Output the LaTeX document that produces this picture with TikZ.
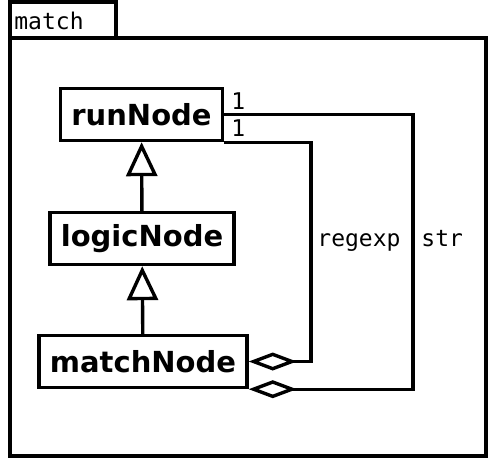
\documentclass[tikz,border=0pt]{standalone}
\usepackage{fontspec}
\setsansfont{DejaVu Sans}
\setmonofont{DejaVu Sans Mono}
\usepackage{tikz}
\usetikzlibrary{positioning, arrows.meta}
\tikzstyle{classNode}=[draw,line width=1.7pt,rectangle,inner xsep=5.5pt,minimum height=26pt,font=\sffamily\bfseries\fontsize{14.5}{17}\selectfont]
\tikzstyle{textLabel}=[inner sep=1pt,font=\ttfamily\fontsize{11.5}{14}\selectfont]
\tikzstyle{generalization}=[-{Triangle[open,length=17pt,width=15.5pt]}, line width=1.7pt]
\tikzstyle{aggregation}=[{Diamond[open,length=24pt,width=9pt]}-, line width=1.7pt]

\begin{document}
\begin{tikzpicture}[x=0.5pt, y=-0.5pt]
        \useasboundingbox (0, 0) rectangle (496, 461);

        \draw[line width=1.7pt] (10, 2) rectangle (116, 38);
        \draw[line width=1.7pt] (10, 38) rectangle (486, 456);
        \node[textLabel, anchor=base west] (pkg) at (12, 29) {match};

        \node[classNode] (run) at (141.5, 114.5) {runNode};
        \node[classNode] (logic) at (142, 238.5) {logicNode};
        \node[classNode] (matchN) at (143, 361.5) {matchNode};

        \draw[generalization] (logic) -- (run);
        \draw[generalization] (matchN) -- (logic);

        \coordinate (rc) at (311, 0);
        \coordinate (sc) at (413, 0);

        \draw[aggregation] (matchN.east) -| (rc |- run.south east) -- (run.south east);
        \draw[aggregation] (matchN.south east) -| (sc |- run.east) -- (run.east);

        \node[textLabel, anchor=base west] (m1) at (229, 109) {1};
        \node[textLabel, anchor=base west] (m2) at (229, 136) {1};

        \node[textLabel, anchor=base west] (lre) at (315, 246) {regexp};
        \node[textLabel, anchor=base west] (lstr) at (419, 246) {str};

    \end{tikzpicture}
\end{document}
